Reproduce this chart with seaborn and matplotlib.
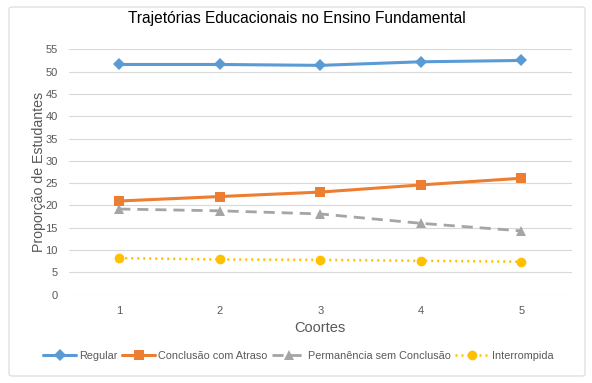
import numpy as np
import pandas as pd
import matplotlib
matplotlib.use('Agg')
import matplotlib.pyplot as plt
import seaborn as sns
from matplotlib.patches import FancyBboxPatch

coortes = [1, 2, 3, 4, 5]
regular = [51.6, 51.6, 51.4, 52.2, 52.5]
atraso = [21.0, 22.0, 23.0, 24.6, 26.1]
permanencia = [19.2, 18.8, 18.1, 16.0, 14.3]
interrompida = [8.2, 7.9, 7.8, 7.6, 7.4]

series = ['Regular', 'Conclusão com Atraso', 'Permanência sem Conclusão', 'Interrompida']
cores = ['#5B9BD5', '#ED7D31', '#A5A5A5', '#FFC000']
marcadores = ['D', 's', '^', 'o']
estilos = ['-', '-', (0, (4, 2.5)), (0, (0.8, 1.6))]
tamanhos = [6.5, 7, 6.5, 7]
larguras = [2.2, 2.2, 2.0, 1.8]

df = pd.DataFrame({'Coorte': coortes, 'Regular': regular,
                   'Conclusão com Atraso': atraso,
                   'Permanência sem Conclusão': permanencia,
                   'Interrompida': interrompida})
df = df.melt(id_vars='Coorte', var_name='Trajetória', value_name='Valor')

sns.set_style('white')
plt.rcParams['font.family'] = ['Liberation Sans', 'DejaVu Sans']

fig = plt.figure(figsize=(5.92, 3.83), dpi=100)
ax = fig.add_axes([69 / 592, 1 - 294.7 / 383, (571.5 - 69) / 592, (294.7 - 49.3) / 383])

# moldura do gráfico
fig.patches.append(FancyBboxPatch((9 / 592, 7 / 383), 576 / 592, 369 / 383,
                                  boxstyle='round,pad=0,rounding_size=0.005',
                                  transform=fig.transFigure, facecolor='none',
                                  edgecolor='#D9D9D9', linewidth=0.8))

for nome, cor, mk, ls, ms, lw in zip(series, cores, marcadores, estilos, tamanhos, larguras):
    sub = df[df['Trajetória'] == nome]
    sns.lineplot(data=sub, x='Coorte', y='Valor', ax=ax, color=cor, marker=mk,
                 markersize=ms, markeredgewidth=0, linestyle=ls, linewidth=lw,
                 label=nome, clip_on=False, zorder=3)

ax.set_xlim(0.5, 5.5)
ax.set_ylim(0, 55)
ax.set_yticks(np.arange(0, 56, 5))
ax.set_xticks(coortes)
ax.grid(axis='y', color='#D9D9D9', linewidth=0.8)
ax.grid(axis='x', visible=False)
for s in ax.spines.values():
    s.set_visible(False)
ax.tick_params(axis='both', length=0, labelsize=8, colors='#595959')
ax.tick_params(axis='y', pad=8)
ax.tick_params(axis='x', pad=8)

ax.set_xlabel('Coortes', fontsize=10.5, color='#595959', labelpad=4)
ax.set_ylabel('Proporção de Estudantes', fontsize=10.2, color='#595959', labelpad=0)
fig.suptitle('Trajetórias Educacionais no Ensino Fundamental', fontsize=11.2,
             color='#000000', x=297 / 592, y=1 - 18 / 383, va='center')

handles, labels = ax.get_legend_handles_labels()
ax.get_legend().remove()
fig.legend(handles, labels, loc='center', bbox_to_anchor=(298 / 592, 1 - 356 / 383),
           ncol=4, frameon=False, fontsize=7.8, handlelength=3.1, columnspacing=0.4,
           handletextpad=0.25, labelcolor='#595959')

plt.savefig('out.png', dpi=100)
